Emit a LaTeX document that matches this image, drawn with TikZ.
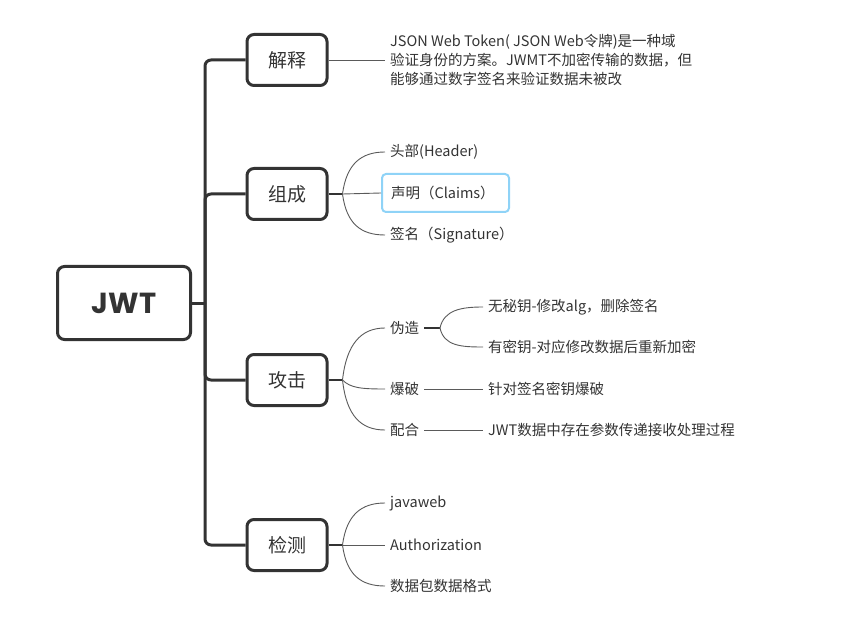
\documentclass[tikz,border=0pt]{standalone}
\usepackage{fontspec}
\setmainfont{Noto Sans CJK SC}
\newfontfamily\rootfont{Poppins}
\usepackage{xcolor}
\usepackage{tikz}
\usetikzlibrary{positioning}
\definecolor{boxline}{HTML}{333333}
\definecolor{twigline}{HTML}{5A5A5A}
\definecolor{pickline}{HTML}{8FD3F7}
\tikzset{
  topic/.style={draw=boxline, line width=3pt, rounded corners=7pt, minimum width=80pt, minimum height=51pt, text=boxline, font=\fontsize{19}{19}\selectfont},
  root/.style={topic, minimum width=133pt, minimum height=73pt, font=\rootfont\bfseries\fontsize{29}{29}\selectfont},
  leaf/.style={anchor=west, inner xsep=5pt, inner ysep=2pt, text=boxline, font=\fontsize{14.5}{19}\selectfont},
  trunk/.style={draw=boxline, line width=3pt, rounded corners=6pt},
  stub/.style={draw=boxline, line width=2pt},
  twig/.style={draw=twigline, line width=0.9pt},
}

\begin{document}
\begin{tikzpicture}[x=1pt, y=-1pt]
        \useasboundingbox (0,0) rectangle (857,631);
        %KOTAK UTAMA
        \node[root] (jwt) at (124,303) {JWT};
        \node[topic] (jieshi) at (287,60) {解释};
        \node[topic] (zucheng) at (287,194) {组成};
        \node[topic] (gongji) at (287,380) {攻击};
        \node[topic] (jiance) at (287,545) {检测};
        %BATANG
        \coordinate (hub) at (205,303);
        \draw[trunk] (jwt.east) -- (hub);
        \foreach \t in {jieshi,zucheng,gongji,jiance}
          \draw[trunk] (hub) |- (\t.west);
        %JIESHI
        \node[leaf, align=left] (define) at (385,60) {JSON Web Token( JSON Web令牌)是一种域\\验证身份的方案。JWMT不加密传输的数据，但\\能够通过数字签名来验证数据未被改};
        \draw[twig] (jieshi.east) -- (define.west);
        %ZUCHENG
        \coordinate[right=14pt of zucheng.east] (zcfork);
        \node[leaf] (header) at (385,152) {头部(Header)};
        \node[leaf, anchor=west, draw=pickline, line width=2pt, rounded corners=4pt, inner xsep=9pt, text width=109pt, minimum height=38pt] (claims) at (381,193) {声明（Claims）};
        \node[leaf] (sign) at (385,235) {签名（Signature）};
        \draw[stub] (zucheng.east) -- (zcfork);
        \draw[twig] (zcfork) .. controls +(4,-30) and +(-24,0) .. (header.west);
        \draw[twig] (zcfork) -- (claims.west);
        \draw[twig] (zcfork) .. controls +(4,30) and +(-24,0) .. (sign.west);
        %GONGJI
        \coordinate[right=14pt of gongji.east] (gjfork);
        \node[leaf] (forge) at (385,328) {伪造};
        \node[leaf] (brute) at (385,389) {爆破};
        \node[leaf] (combo) at (385,430) {配合};
        \draw[stub] (gongji.east) -- (gjfork);
        \draw[twig] (gjfork) .. controls +(4,-36) and +(-24,0) .. (forge.west);
        \draw[twig] (gjfork) .. controls +(8,8) and +(-24,0) .. (brute.west);
        \draw[twig] (gjfork) .. controls +(4,36) and +(-24,0) .. (combo.west);
        \coordinate (fgfork) at (440,328);
        \node[leaf] (nokey) at (483,307) {无秘钥-修改alg，删除签名};
        \node[leaf] (haskey) at (483,347) {有密钥-对应修改数据后重新加密};
        \node[leaf] (crack) at (483,389) {针对签名密钥爆破};
        \node[leaf] (param) at (483,430) {JWT数据中存在参数传递接收处理过程};
        \draw[stub] (forge.east) -- (fgfork);
        \draw[twig] (fgfork) .. controls +(4,-18) and +(-22,0) .. (nokey.west);
        \draw[twig] (fgfork) .. controls +(4,18) and +(-22,0) .. (haskey.west);
        \draw[twig] (brute.east) -- (crack.west);
        \draw[twig] (combo.east) -- (param.west);
        %JIANCE
        \coordinate[right=14pt of jiance.east] (jcfork);
        \node[leaf] (javaweb) at (385,503) {javaweb};
        \node[leaf] (auth) at (385,545) {Authorization};
        \node[leaf] (packet) at (385,586) {数据包数据格式};
        \draw[stub] (jiance.east) -- (jcfork);
        \draw[twig] (jcfork) .. controls +(4,-30) and +(-24,0) .. (javaweb.west);
        \draw[twig] (jcfork) -- (auth.west);
        \draw[twig] (jcfork) .. controls +(4,30) and +(-24,0) .. (packet.west);
\end{tikzpicture}
\end{document}
